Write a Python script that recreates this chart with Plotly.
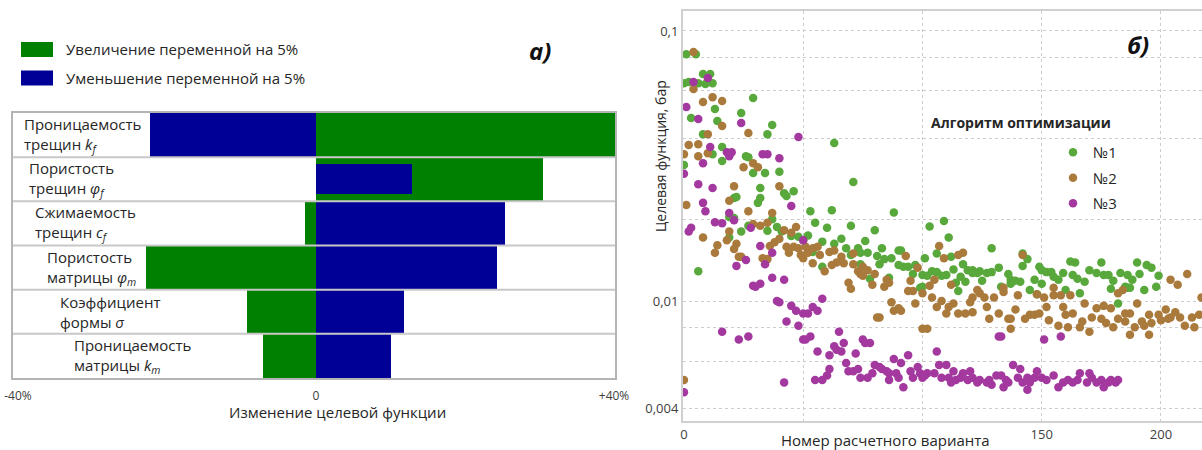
import plotly.graph_objects as go

W, H = 1202, 450

# ---------------- panel a) data ----------------
factor_keys = ["kf", "phif", "cf", "phim", "sigma", "km"]
factor_labels = [
    "Проницаемость<br>трещин <i>k<sub>f</sub></i>",
    "Пористость<br>трещин <i>φ<sub>f</sub></i>",
    "Сжимаемость<br>трещин <i>c<sub>f</sub></i>",
    "Пористость<br>матрицы <i>φ<sub>m</sub></i>",
    "Коэффициент<br>формы <i>σ</i>",
    "Проницаемость<br>матрицы <i>k<sub>m</sub></i>",
]
increase_pct = [40.1, 30.5, -1.5, -22.8, -9.3, -7.1]
decrease_pct = [-22.3, 12.9, 25.4, 24.3, 11.8, 10.1]
series_names_a = ["Увеличение переменной на 5%", "Уменьшение переменной на 5%"]
tick_vals_a = [-40, 0, 40]
tick_text_a = ["-40%", "0", "+40%"]

# ---------------- panel б) data ----------------
alg_names = ["№1", "№2", "№3"]
alg1_points = [
    (0, 0.0319), (0, 0.064), (1, 0.082), (2, 0.0647), (3, 0.0476), (5, 0.082), (6, 0.064), (6, 0.0129),
    (8, 0.0693), (8, 0.0415), (9, 0.0636), (11, 0.0693), (12, 0.064), (12, 0.035), (13, 0.0514), (14, 0.0464),
    (16, 0.033), (16, 0.0372), (19, 0.0172), (19, 0.0205), (21, 0.0241), (21, 0.0203), (22, 0.0243), (24, 0.0181),
    (24, 0.0497), (26, 0.0344), (27, 0.019), (27, 0.0341), (29, 0.0298), (29, 0.0565), (31, 0.0231), (32, 0.0262),
    (32, 0.0241), (34, 0.0298), (35, 0.0182), (35, 0.0415), (37, 0.0201), (37, 0.0449), (39, 0.0188), (40, 0.0301),
    (41, 0.0181), (42, 0.0251), (43, 0.0245), (45, 0.0174), (46, 0.0255), (48, 0.0173), (50, 0.0168),
    (52, 0.0175), (53, 0.0215), (54, 0.0152), (55, 0.0195), (58, 0.0166), (58, 0.0134), (60, 0.0187), (62, 0.0217),
    (63, 0.0163), (63, 0.0385), (66, 0.017), (68, 0.0157), (70, 0.019), (70, 0.0148), (71, 0.0276), (73, 0.0157),
    (74, 0.0137), (74, 0.0151), (76, 0.0167), (77, 0.0151), (78, 0.0121), (80, 0.0183), (81, 0.0147), (82, 0.0137),
    (83, 0.0157), (84, 0.0143), (86, 0.0122), (87, 0.0144), (88, 0.0213), (90, 0.0136), (90, 0.0154), (91, 0.0154),
    (92, 0.0134), (94, 0.0134), (96, 0.0126), (97, 0.0136), (99, 0.0112),
    (100, 0.0125), (100, 0.0113), (101, 0.0144), (102, 0.0124), (103, 0.0189), (104, 0.0129), (106, 0.015), (106, 0.0128),
    (108, 0.0124), (109, 0.0198), (110, 0.0125), (111, 0.0172), (112, 0.0146), (113, 0.0131), (114, 0.0117), (115, 0.0109),
    (116, 0.0123), (117, 0.0137), (118, 0.0118), (119, 0.013), (121, 0.0127), (121, 0.013), (123, 0.0127), (124, 0.0129),
    (125, 0.0119), (127, 0.0127), (129, 0.0157), (129, 0.0128), (132, 0.0133), (133, 0.0113), (136, 0.0126), (137, 0.012),
    (137, 0.0116), (139, 0.0119), (141, 0.0118), (142, 0.015), (142, 0.0135), (144, 0.0143), (145, 0.011), (147, 0.012),
    (148, 0.0106), (149, 0.0134),
    (150, 0.013), (150, 0.0116), (152, 0.0128), (154, 0.0128), (155, 0.0123), (157, 0.012), (159, 0.0127), (160, 0.011),
    (162, 0.014), (163, 0.0125), (164, 0.0139), (165, 0.0121), (166, 0.0107), (168, 0.0118), (170, 0.013), (173, 0.0127),
    (175, 0.0139), (176, 0.0125), (178, 0.0125), (179, 0.0111), (180, 0.0119), (182, 0.0098), (183, 0.0127), (185, 0.0113),
    (186, 0.0125), (186, 0.0112), (187, 0.0112), (188, 0.012), (190, 0.0139), (191, 0.0126), (193, 0.011), (194, 0.0136),
    (196, 0.0133), (198, 0.0113), (199, 0.0124),
]
alg2_points = [
    (0, 0.0051), (0, 0.035), (1, 0.0227), (2, 0.0378), (4, 0.0836), (4, 0.061), (6, 0.0344), (6, 0.0381),
    (8, 0.0546), (8, 0.0172), (10, 0.0353), (10, 0.0415), (12, 0.0569), (13, 0.0151), (14, 0.0161), (16, 0.055),
    (16, 0.0445), (18, 0.0168), (19, 0.0235), (19, 0.0181), (21, 0.0266), (21, 0.0156), (22, 0.0163), (23, 0.0146),
    (24, 0.0146), (25, 0.0313), (27, 0.0419), (27, 0.0215), (29, 0.0324), (29, 0.0193), (31, 0.0313), (32, 0.019),
    (33, 0.0144), (35, 0.0143), (35, 0.0195), (36, 0.016), (37, 0.0212), (38, 0.0165), (40, 0.0266), (40, 0.017),
    (42, 0.0183), (43, 0.0159), (44, 0.0151), (45, 0.0179), (46, 0.0159), (47, 0.0188), (48, 0.0157), (49, 0.0148),
    (50, 0.0144),
    (51, 0.0159), (52, 0.0151), (54, 0.0157), (54, 0.0138), (56, 0.0159), (57, 0.0148), (59, 0.0129), (61, 0.0152),
    (62, 0.0136), (63, 0.0154), (64, 0.0139), (66, 0.0146), (67, 0.0138), (69, 0.0117), (70, 0.0111), (71, 0.015),
    (71, 0.0137), (73, 0.0129), (74, 0.0126), (75, 0.0134), (75, 0.0124), (77, 0.013), (79, 0.0115), (80, 0.0126),
    (81, 0.0087), (82, 0.0087), (84, 0.0113), (85, 0.012), (86, 0.0117), (87, 0.0099), (88, 0.0092), (90, 0.0094),
    (91, 0.0092), (93, 0.0147), (94, 0.0109), (95, 0.0119), (96, 0.0109), (97, 0.0098), (98, 0.0133), (100, 0.0079),
    (100, 0.0107), (102, 0.0079), (103, 0.0114), (104, 0.0103), (105, 0.012), (106, 0.0095), (107, 0.016), (108, 0.01),
    (109, 0.0144), (110, 0.009), (111, 0.0095), (112, 0.0115), (113, 0.0098), (115, 0.009), (115, 0.0148), (117, 0.0151),
    (118, 0.009), (120, 0.0099), (121, 0.0103), (121, 0.0091), (123, 0.011), (124, 0.0107), (126, 0.0103), (127, 0.0095),
    (128, 0.0086), (130, 0.0103), (132, 0.009), (134, 0.0108), (134, 0.0112), (136, 0.0086), (137, 0.0086), (137, 0.0079),
    (139, 0.0093), (140, 0.0105), (142, 0.0148), (143, 0.0086), (145, 0.0089), (147, 0.0089), (148, 0.0106), (149, 0.009),
    (151, 0.0103), (152, 0.0095), (153, 0.0085), (155, 0.0112), (155, 0.0105), (157, 0.0081), (158, 0.0105), (159, 0.0095),
    (160, 0.0089), (161, 0.008), (162, 0.0105), (163, 0.009), (166, 0.008), (167, 0.0084), (168, 0.0098), (170, 0.0077),
    (171, 0.0087), (173, 0.0094), (175, 0.0086), (176, 0.0096), (177, 0.0083), (179, 0.0094), (180, 0.008), (182, 0.0086),
    (182, 0.0107), (184, 0.011), (185, 0.009), (185, 0.0084), (187, 0.009), (187, 0.0075), (189, 0.008), (190, 0.0098),
    (192, 0.0084), (193, 0.0081), (195, 0.0089), (195, 0.0075), (196, 0.0083), (199, 0.0089), (200, 0.0085), (202, 0.0093),
    (203, 0.0086), (204, 0.0087), (204, 0.012), (206, 0.0091), (207, 0.0115), (208, 0.0087), (210, 0.0081), (211, 0.0126),
    (213, 0.0087), (214, 0.008), (216, 0.0089), (217, 0.0103),
]
alg3_points = [
    (0, 0.0046), (0, 0.0296), (1, 0.0523), (2, 0.0181), (3, 0.0187), (4, 0.0647), (6, 0.0472), (6, 0.0271),
    (8, 0.0324), (8, 0.0231), (9, 0.0215), (10, 0.067), (11, 0.0372), (12, 0.0262), (13, 0.0196), (16, 0.0194),
    (16, 0.0077), (18, 0.0356), (19, 0.0344), (19, 0.0212), (20, 0.0356), (21, 0.0199), (22, 0.0135), (23, 0.0072),
    (24, 0.0456), (26, 0.0142), (27, 0.0074), (28, 0.0187), (29, 0.0114), (30, 0.0113), (32, 0.016), (32, 0.0116),
    (33, 0.035), (34, 0.0137), (35, 0.035), (37, 0.0122), (37, 0.0151), (39, 0.01), (40, 0.0338), (40, 0.0099),
    (42, 0.012), (42, 0.005), (43, 0.0084), (45, 0.0225), (45, 0.0096), (47, 0.0092), (48, 0.0405), (48, 0.0081),
    (50, 0.0168), (50, 0.0072), (50, 0.009),
    (51, 0.0072), (52, 0.009), (53, 0.0074), (54, 0.0095), (55, 0.0051), (56, 0.0065), (56, 0.0092), (58, 0.0102),
    (58, 0.0051), (60, 0.0053), (61, 0.0063), (61, 0.0056), (63, 0.0068), (64, 0.0066), (65, 0.0077), (66, 0.0065),
    (67, 0.007), (68, 0.0059), (69, 0.0055), (71, 0.0055), (72, 0.0064), (73, 0.0056), (74, 0.0052), (75, 0.0072),
    (76, 0.007), (77, 0.0052), (78, 0.007), (79, 0.0054), (80, 0.0058), (82, 0.0057), (83, 0.0056), (85, 0.0055),
    (86, 0.0051), (86, 0.0054), (88, 0.0061), (89, 0.0054), (90, 0.0052), (91, 0.0059), (92, 0.0048), (94, 0.0063),
    (95, 0.0055), (96, 0.0052), (98, 0.0057), (99, 0.0054), (100, 0.0052),
    (101, 0.0053), (102, 0.0054), (105, 0.0054), (106, 0.0065), (107, 0.0058), (108, 0.0052), (110, 0.0058), (111, 0.0052),
    (112, 0.005), (113, 0.0055), (114, 0.0051), (116, 0.0052), (117, 0.0054), (119, 0.0051), (120, 0.0055), (121, 0.0052),
    (123, 0.005), (124, 0.0051), (127, 0.005), (128, 0.0051), (129, 0.0049), (131, 0.0053), (132, 0.0074), (133, 0.0074),
    (133, 0.0053), (134, 0.0048), (135, 0.0051), (136, 0.005), (138, 0.0058), (140, 0.0052), (141, 0.0056), (142, 0.005),
    (144, 0.0047), (144, 0.0052), (145, 0.005), (147, 0.0052), (148, 0.0055), (150, 0.0052), (151, 0.0072),
    (152, 0.0051), (155, 0.0053), (157, 0.0048), (158, 0.0074), (159, 0.005), (161, 0.0051), (163, 0.005), (165, 0.0051),
    (166, 0.0054), (169, 0.005), (170, 0.0054), (171, 0.0052), (173, 0.005), (175, 0.0051), (176, 0.0048), (178, 0.005),
    (179, 0.0051), (181, 0.005), (182, 0.0051),
]
y_tick_vals_b = [0.004, 0.01, 0.1]
y_tick_text_b = ["0,004", "0,01", "0,1"]
y_grid_minor_b = [0.006, 0.008, 0.02, 0.04, 0.06, 0.08]
x_tick_vals_b = [0, 150, 200]
x_tick_text_b = ["0", "150", "200"]
x_grid_minor_b = [50, 100]

# ---------------- styles ----------------
FONT = "Open Sans"
TXT = "#262626"
GREEN_BAR = "#008000"
BLUE_BAR = "#000096"
ALG_COLORS = ["#58a83c", "#a97a3c", "#a3389f"]
GRID = "#cccccc"
blue_widths = [1, 0.68, 1, 1, 1, 1]
label_indent_px = [22, 27, 33, 45, 58, 72]


def pxx(p):
    return p / W


def pxy(p):
    return 1 - p / H


fig = go.Figure()

fig.add_trace(go.Bar(y=factor_keys, x=increase_pct, orientation="h", name=series_names_a[0],
                     marker=dict(color=GREEN_BAR, line=dict(width=0)), width=1,
                     xaxis="x", yaxis="y", showlegend=False))
fig.add_trace(go.Bar(y=factor_keys, x=decrease_pct, orientation="h", name=series_names_a[1],
                     marker=dict(color=BLUE_BAR, line=dict(width=0)), width=blue_widths,
                     xaxis="x", yaxis="y", showlegend=False))

for name, pts, col in zip(alg_names, [alg1_points, alg2_points, alg3_points], ALG_COLORS):
    fig.add_trace(go.Scatter(x=[p[0] for p in pts], y=[p[1] for p in pts], mode="markers", name=name,
                             legendgroup=name,
                             marker=dict(color=col, size=8.5, line=dict(width=0)),
                             xaxis="x2", yaxis="y2"))

shapes = []
for i in range(len(factor_keys) - 1):
    shapes.append(dict(type="line", xref="x domain", yref="y", x0=0, x1=1, y0=i + 0.5, y1=i + 0.5,
                       line=dict(color="#c8c8c8", width=2), layer="above"))
# legend swatches for panel a
for k, col in enumerate([GREEN_BAR, BLUE_BAR]):
    yc = 49.5 + 28.5 * k
    shapes.append(dict(type="rect", xref="paper", yref="paper", x0=pxx(21), x1=pxx(53),
                       y0=pxy(yc + 7.5), y1=pxy(yc - 7.5), fillcolor=col, line=dict(width=0)))


def ann(text, x, y, size, xanchor="center", **kw):
    d = dict(text=text, x=x, y=y, xref="paper", yref="paper", xanchor=xanchor, yanchor="middle",
             showarrow=False, font=dict(family=FONT, size=size, color=kw.pop("color", TXT)))
    d.update(kw)
    return d


annotations = []
for lab, key, ind in zip(factor_labels, factor_keys, label_indent_px):
    annotations.append(dict(text=lab, x=pxx(ind), xref="paper", y=key, yref="y", xanchor="left",
                            yanchor="middle", align="left", showarrow=False,
                            font=dict(family=FONT, size=15, color=TXT)))
for k, nm in enumerate(series_names_a):
    annotations.append(ann(nm, pxx(64), pxy(49.5 + 28.5 * k), 15, xanchor="left"))
annotations += [
    ann("<b><i>а)</i></b>", pxx(540), pxy(50), 24, color="#111"),
    ann("<b><i>б)</i></b>", pxx(1138), pxy(45), 24, color="#111"),
    ann("Изменение целевой функции", pxx(338), pxy(412), 15),
    ann("Номер расчетного варианта", pxx(885), pxy(440), 15),
    ann("Целевая функция, бар", pxx(660), pxy(156), 14, textangle=-90),
    ann("<b>Алгоритм оптимизации</b>", pxx(1021), pxy(123), 14),
]

fig.update_layout(
    template="none",
    width=W, height=H, margin=dict(l=0, r=0, t=0, b=0, pad=0, autoexpand=False), autosize=False,
    paper_bgcolor="white", plot_bgcolor="white",
    barmode="overlay", bargap=0,
    font=dict(family=FONT, size=13, color=TXT),
    shapes=shapes, annotations=annotations,
    xaxis=dict(domain=[pxx(13), pxx(615)], range=[-40.67, 40.13], tickvals=tick_vals_a, ticktext=tick_text_a,
               showgrid=False, zeroline=False, showline=True, mirror=True, linecolor="#b4b4b4", linewidth=2,
               ticks="", ticklabelstandoff=6, automargin=False,
               tickfont=dict(family=FONT, size=12, color="#404040"), anchor="y"),
    yaxis=dict(domain=[pxy(378), pxy(113)], type="category", categoryorder="array", categoryarray=factor_keys,
               range=[len(factor_keys) - 0.5, -0.5], showticklabels=False, showgrid=False, zeroline=False,
               automargin=False, ticks="",
               showline=True, mirror=True, linecolor="#b4b4b4", linewidth=2, anchor="x"),
    xaxis2=dict(domain=[pxx(683), 1.0], range=[-0.4, 217.2], tickvals=x_tick_vals_b, ticktext=x_tick_text_b,
                showgrid=True, gridcolor=GRID, griddash="dot", gridwidth=1, zeroline=False, automargin=False,
                minor=dict(tickvals=x_grid_minor_b, showgrid=True, gridcolor=GRID, griddash="dot", gridwidth=1,
                           ticks=""),
                showline=True, mirror=True, linecolor="#d0d0d0", linewidth=2, ticks="",
                tickfont=dict(family=FONT, size=13, color="#404040"), anchor="y2"),
    yaxis2=dict(domain=[pxy(421), pxy(11)], type="log", range=[-2.444, -0.926], tickvals=y_tick_vals_b,
                ticktext=y_tick_text_b, showgrid=True, gridcolor=GRID, griddash="dot", gridwidth=1,
                minor=dict(tickvals=y_grid_minor_b, showgrid=True, gridcolor=GRID, griddash="dot", gridwidth=1,
                           ticks=""), automargin=False,
                zeroline=False, showline=True, mirror=True, linecolor="#d0d0d0", linewidth=2, ticks="",
                tickfont=dict(family=FONT, size=13, color="#404040"), anchor="x2"),
    legend=dict(x=pxx(1053), y=pxy(136), xanchor="left", yanchor="top", bgcolor="rgba(0,0,0,0)",
                borderwidth=0, font=dict(family=FONT, size=15, color=TXT), itemwidth=30, tracegroupgap=3,
                traceorder="grouped"),
)

fig.write_html(
    "out.html",
    config={"displayModeBar": False, "responsive": False},
    post_script=("document.documentElement.style.margin='0';document.documentElement.style.overflow='hidden';"
                 "document.body.style.margin='0';document.body.style.overflow='hidden';"),
)
